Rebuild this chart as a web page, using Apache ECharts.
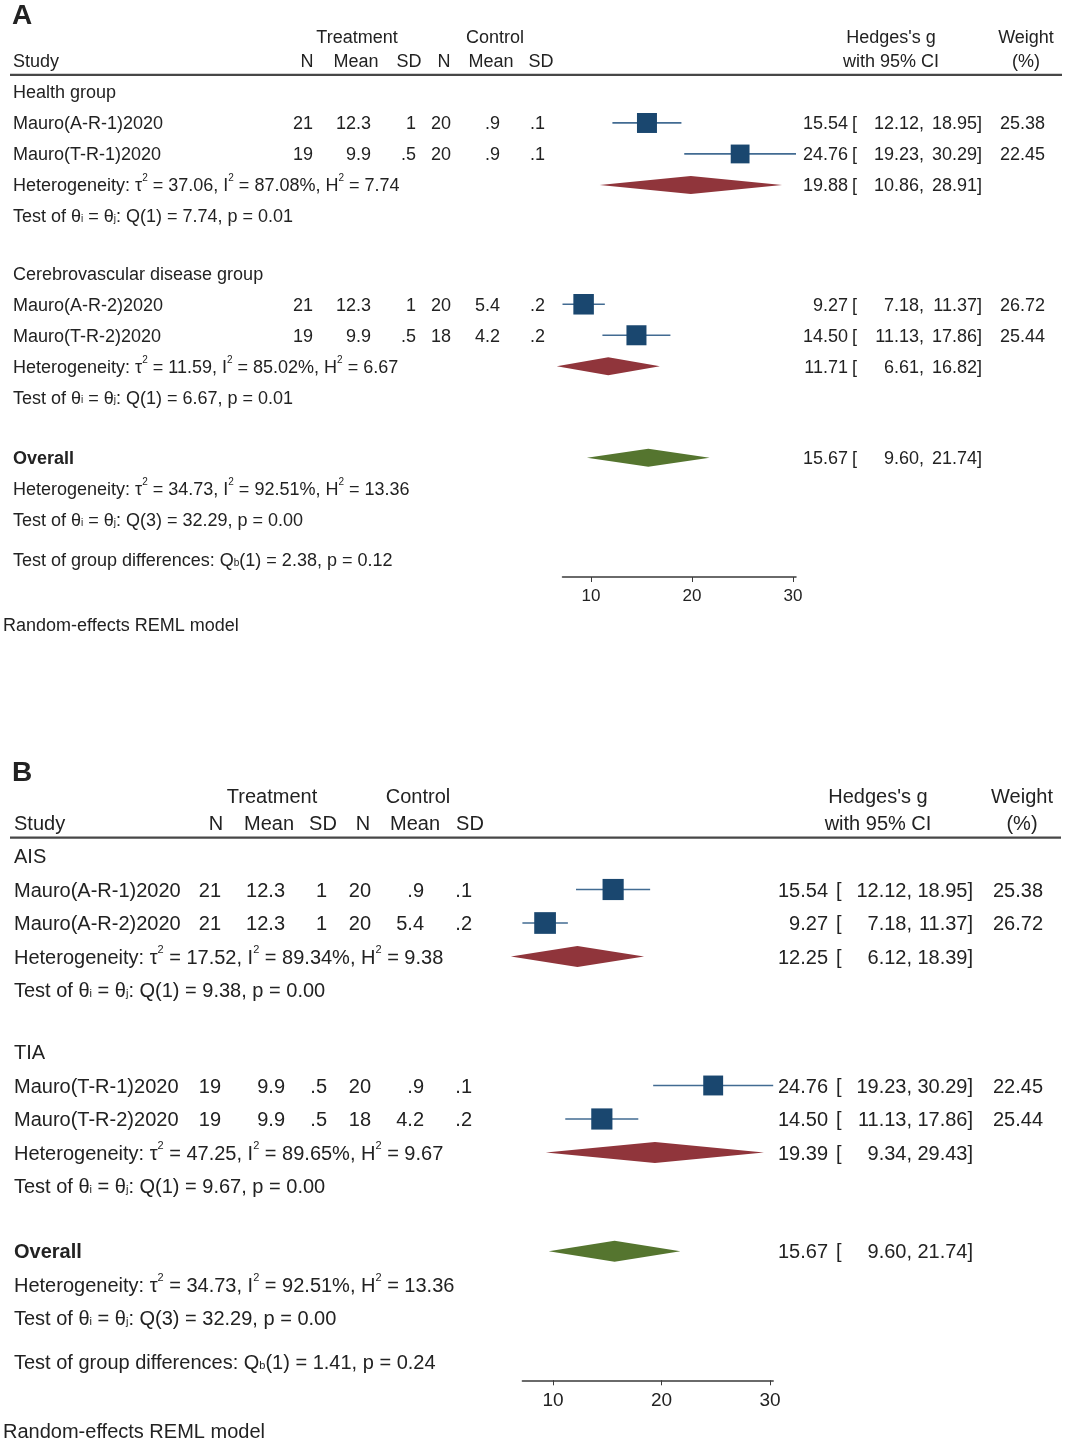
<!DOCTYPE html>
<html>
<head>
<meta charset="utf-8">
<title>Forest plot</title>
<script src="https://cdn.jsdelivr.net/npm/echarts@6/dist/echarts.min.js"></script>
<style>
  html, body { margin: 0; padding: 0; background: #fff; }
  #main { width: 1066px; height: 1441px; }
</style>
</head>
<body>
<div id="main"></div>
<script>
// ---- panel A : by disease group ----
var groupsA = ['Health group', 'Cerebrovascular disease group'];
var studiesA = ['Mauro(A-R-1)2020', 'Mauro(T-R-1)2020', 'Mauro(A-R-2)2020', 'Mauro(T-R-2)2020'];
var trtNA = [21, 19, 21, 19];
var trtMeanA = ['12.3', '9.9', '12.3', '9.9'];
var trtSdA = ['1', '.5', '1', '.5'];
var ctlNA = [20, 20, 20, 18];
var ctlMeanA = ['.9', '.9', '5.4', '4.2'];
var ctlSdA = ['.1', '.1', '.2', '.2'];
var esA = [15.54, 24.76, 9.27, 14.50];
var loA = [12.12, 19.23, 7.18, 11.13];
var hiA = [18.95, 30.29, 11.37, 17.86];
var wtA = [25.38, 22.45, 26.72, 25.44];
var subEsA = [19.88, 11.71];
var subLoA = [10.86, 6.61];
var subHiA = [28.91, 16.82];
var tau2A = ['37.06', '11.59'];
var i2A = ['87.08', '85.02'];
var h2A = ['7.74', '6.67'];
var qA = ['7.74', '6.67'];
var pA = ['0.01', '0.01'];
var qbA = ['2.38', '0.12'];

// ---- panel B : AIS / TIA ----
var groupsB = ['AIS', 'TIA'];
var studiesB = ['Mauro(A-R-1)2020', 'Mauro(A-R-2)2020', 'Mauro(T-R-1)2020', 'Mauro(T-R-2)2020'];
var trtNB = [21, 21, 19, 19];
var trtMeanB = ['12.3', '12.3', '9.9', '9.9'];
var trtSdB = ['1', '1', '.5', '.5'];
var ctlNB = [20, 20, 20, 18];
var ctlMeanB = ['.9', '5.4', '.9', '4.2'];
var ctlSdB = ['.1', '.2', '.1', '.2'];
var esB = [15.54, 9.27, 24.76, 14.50];
var loB = [12.12, 7.18, 19.23, 11.13];
var hiB = [18.95, 11.37, 30.29, 17.86];
var wtB = [25.38, 26.72, 22.45, 25.44];
var subEsB = [12.25, 19.39];
var subLoB = [6.12, 9.34];
var subHiB = [18.39, 29.43];
var tau2B = ['17.52', '47.25'];
var i2B = ['89.34', '89.65'];
var h2B = ['9.38', '9.67'];
var qB = ['9.38', '9.67'];
var pB = ['0.00', '0.00'];
var qbB = ['1.41', '0.24'];

// overall random-effects estimate (same in both panels)
var overallEs = 15.67, overallLo = 9.60, overallHi = 21.74;
var overallHet = ['34.73', '92.51', '13.36'];
var overallQ = ['32.29', '0.00'];

var colHeads = ['N', 'Mean', 'SD', 'N', 'Mean', 'SD'];
var xTicks = [10, 20, 30];

// row slots shared by both panels
var rowGroup = [0, 5.85];
var rowStudy = [1, 2, 6.85, 7.85];
var rowHet = [3, 8.85];
var rowTest = [4, 9.85];
var rowOverall = 11.8;

var FONT = '"Liberation Sans", Arial, Helvetica, sans-serif';
var TXT = '#222';

var panelA = {groups: groupsA, studies: studiesA, trtN: trtNA, trtMean: trtMeanA, trtSd: trtSdA,
  ctlN: ctlNA, ctlMean: ctlMeanA, ctlSd: ctlSdA, es: esA, lo: loA, hi: hiA, wt: wtA,
  subEs: subEsA, subLo: subLoA, subHi: subHiA, tau2: tau2A, i2: i2A, h2: h2A, q: qA, p: pA, qb: qbA};
var panelB = {groups: groupsB, studies: studiesB, trtN: trtNB, trtMean: trtMeanB, trtSd: trtSdB,
  ctlN: ctlNB, ctlMean: ctlMeanB, ctlSd: ctlSdB, es: esB, lo: loB, hi: hiB, wt: wtB,
  subEs: subEsB, subLo: subLoB, subHi: subHiB, tau2: tau2B, i2: i2B, h2: h2B, q: qB, p: pB, qb: qbB};

var layoutA = {grid: 0, label: 'A', fs: 18, lh: 26, supFs: 10, subFs: 10, subPad: 10, tickFs: 17, dy: 1.5,
  study: 13, hdr: [307, 356, 409, 444, 491, 541], col: [313, 371, 416, 451, 500, 545],
  treat: 357, ctrl: 495, es: 848, br: 852, lo: 924, hi: 982, wt: 1045, hedges: 891, weight: 1026,
  ruleL: 10, ruleR: 1062, sq: 3.97, dia: 9, foot: 3};
var layoutB = {grid: 1, label: 'B', fs: 20, lh: 28, supFs: 11, subFs: 11, subPad: 11, tickFs: 19, dy: 1.5,
  study: 14, hdr: [216, 269, 323, 363, 415, 470], col: [221, 285, 327, 371, 424, 472],
  treat: 272, ctrl: 418, es: 828, br: 836, lo: 912, hi: 973, wt: 1043, hedges: 878, weight: 1022,
  ruleL: 10, ruleR: 1061, sq: 4.2, dia: 10.5, foot: 3};

var xMin = Math.min.apply(null, loA.concat(loB));
var xMax = Math.max.apply(null, hiA.concat(hiB));

function richFor(L) {
  return {
    sup: {fontSize: L.supFs, fontFamily: FONT, fill: TXT, verticalAlign: 'top',
      lineHeight: L.lh - 0.732 * L.fs - 2.5},
    sub: {fontSize: L.subFs, fontFamily: FONT, fill: TXT, verticalAlign: 'top',
      padding: [L.subPad, 0, 0, 0]}
  };
}

function hetText(t, i, h) {
  return 'Heterogeneity: \u03c4{sup|2} = ' + t + ', I{sup|2} = ' + i + '%, H{sup|2} = ' + h;
}
function testText(df, q, p) {
  return 'Test of \u03b8{sub|i} = \u03b8{sub|j}: Q(' + df + ') = ' + q + ', p = ' + p;
}
function ciParts(L, es, lo, hi, wt) {
  var parts = [
    {x: L.es, text: es.toFixed(2), align: 'right'},
    {x: L.br, text: '['},
    {x: L.lo, text: lo.toFixed(2) + ',', align: 'right'},
    {x: L.hi, text: hi.toFixed(2) + ']', align: 'right'}
  ];
  if (wt != null) parts.push({x: L.wt, text: wt.toFixed(2), align: 'right'});
  return parts;
}

function panelRows(P, L) {
  var rows = [];
  rows.push({row: -2.5, parts: [{x: 12, text: L.label, size: 28, bold: true}]});
  rows.push({row: -1.8, parts: [
    {x: L.treat, text: 'Treatment', align: 'center'},
    {x: L.ctrl, text: 'Control', align: 'center'},
    {x: L.hedges, text: "Hedges's g", align: 'center'},
    {x: L.weight, text: 'Weight', align: 'center'}
  ]});
  var hdr = [{x: L.study, text: 'Study'}];
  colHeads.forEach(function (h, k) { hdr.push({x: L.hdr[k], text: h, align: 'center'}); });
  hdr.push({x: L.hedges, text: 'with 95% CI', align: 'center'});
  hdr.push({x: L.weight, text: '(%)', align: 'center'});
  rows.push({row: -1.0, parts: hdr});
  rows.push({row: -0.55, parts: [{rule: true}]});

  P.groups.forEach(function (g, gi) {
    rows.push({row: rowGroup[gi], parts: [{x: L.study, text: g}]});
    rows.push({row: rowHet[gi], parts: [{x: L.study, text: hetText(P.tau2[gi], P.i2[gi], P.h2[gi])}]
      .concat(ciParts(L, P.subEs[gi], P.subLo[gi], P.subHi[gi]))});
    rows.push({row: rowTest[gi], parts: [{x: L.study, text: testText('1', P.q[gi], P.p[gi])}]});
  });
  P.studies.forEach(function (s, k) {
    var cells = [P.trtN[k], P.trtMean[k], P.trtSd[k], P.ctlN[k], P.ctlMean[k], P.ctlSd[k]];
    var parts = [{x: L.study, text: s}];
    cells.forEach(function (c, j) { parts.push({x: L.col[j], text: String(c), align: 'right'}); });
    rows.push({row: rowStudy[k], parts: parts.concat(ciParts(L, P.es[k], P.lo[k], P.hi[k], P.wt[k]))});
  });
  rows.push({row: rowOverall, parts: [{x: L.study, text: 'Overall', bold: true}]
    .concat(ciParts(L, overallEs, overallLo, overallHi))});
  rows.push({row: rowOverall + 1, parts: [{x: L.study, text: hetText(overallHet[0], overallHet[1], overallHet[2])}]});
  rows.push({row: rowOverall + 2, parts: [{x: L.study, text: testText('3', overallQ[0], overallQ[1])}]});
  rows.push({row: rowOverall + 3.3, parts: [{x: L.study,
    text: 'Test of group differences: Q{sub|b}(1) = ' + P.qb[0] + ', p = ' + P.qb[1]}]});
  rows.push({row: 17.17, parts: [{x: L.foot, text: 'Random-effects REML model'}]});
  return rows;
}

function textSeries(P, L) {
  var rows = panelRows(P, L);
  var rich = richFor(L);
  return {
    type: 'custom',
    xAxisIndex: L.grid, yAxisIndex: L.grid,
    silent: true,
    data: rows.map(function (r) { return [xMin, r.row]; }),
    renderItem: function (params, api) {
      var r = rows[params.dataIndex];
      var y = api.coord([api.value(0), api.value(1)])[1];
      var kids = r.parts.map(function (t) {
        if (t.rule) {
          return {type: 'line', shape: {x1: L.ruleL, y1: y, x2: L.ruleR, y2: y},
            style: {stroke: '#474747', lineWidth: 2.2}};
        }
        return {
          type: 'text', x: t.x, y: y + L.dy,
          style: {
            text: t.text, fill: TXT, fontFamily: FONT,
            fontSize: t.size || L.fs, fontWeight: t.bold ? 'bold' : 'normal',
            align: t.align || 'left', verticalAlign: 'middle',
            lineHeight: L.lh, rich: rich
          }
        };
      });
      return {type: 'group', children: kids};
    }
  };
}

function studySeries(P, L) {
  return {
    type: 'custom',
    xAxisIndex: L.grid, yAxisIndex: L.grid,
    silent: true,
    encode: {x: [0, 1, 2], y: 3},
    data: P.es.map(function (e, k) { return [e, P.lo[k], P.hi[k], rowStudy[k], P.wt[k]]; }),
    renderItem: function (params, api) {
      var row = api.value(3);
      var c = api.coord([api.value(0), row]);
      var l = api.coord([api.value(1), row]);
      var h = api.coord([api.value(2), row]);
      var s = L.sq * Math.sqrt(api.value(4));
      return {type: 'group', children: [
        {type: 'line', shape: {x1: l[0], y1: l[1], x2: h[0], y2: h[1]},
          style: {stroke: '#426b92', lineWidth: 1.7}},
        {type: 'rect', shape: {x: c[0] - s / 2, y: c[1] - s / 2, width: s, height: s},
          style: {fill: '#1a476f'}}
      ]};
    }
  };
}

function diamondSeries(P, L) {
  var data = P.subEs.map(function (e, k) { return [e, P.subLo[k], P.subHi[k], rowHet[k], 0]; });
  data.push([overallEs, overallLo, overallHi, rowOverall, 1]);
  return {
    type: 'custom',
    xAxisIndex: L.grid, yAxisIndex: L.grid,
    silent: true,
    encode: {x: [0, 1, 2], y: 3},
    data: data,
    renderItem: function (params, api) {
      var row = api.value(3);
      var c = api.coord([api.value(0), row]);
      var l = api.coord([api.value(1), row]);
      var h = api.coord([api.value(2), row]);
      return {
        type: 'polygon',
        shape: {points: [[l[0], c[1]], [c[0], c[1] - L.dia], [h[0], c[1]], [c[0], c[1] + L.dia]]},
        style: {fill: api.value(4) ? '#55752f' : '#90353b'}
      };
    }
  };
}

function xAxisFor(L) {
  return {
    type: 'value', gridIndex: L.grid, min: xMin, max: xMax,
    axisLine: {onZero: false, lineStyle: {color: '#3a3a3a', width: 1.5}},
    axisTick: {customValues: xTicks, length: 5, lineStyle: {color: '#3a3a3a', width: 1}},
    axisLabel: {customValues: xTicks, fontSize: L.tickFs, color: TXT, fontFamily: FONT, margin: 11},
    splitLine: {show: false}
  };
}
function yAxisFor(L) {
  return {type: 'value', gridIndex: L.grid, min: -2.6, max: 15.65, inverse: true, show: false};
}

var chart = echarts.init(document.getElementById('main'), null, {renderer: 'canvas'});
var option = {
  animation: false,
  backgroundColor: '#fff',
  grid: [
    {left: 562.5, top: 11.4, width: 233.5, height: 565.6},
    {left: 522.4, top: 768.9, width: 250.8, height: 611.4}
  ],
  xAxis: [xAxisFor(layoutA), xAxisFor(layoutB)],
  yAxis: [yAxisFor(layoutA), yAxisFor(layoutB)],
  series: [
    textSeries(panelA, layoutA), studySeries(panelA, layoutA), diamondSeries(panelA, layoutA),
    textSeries(panelB, layoutB), studySeries(panelB, layoutB), diamondSeries(panelB, layoutB)
  ]
};
chart.setOption(option);
</script>
</body>
</html>
